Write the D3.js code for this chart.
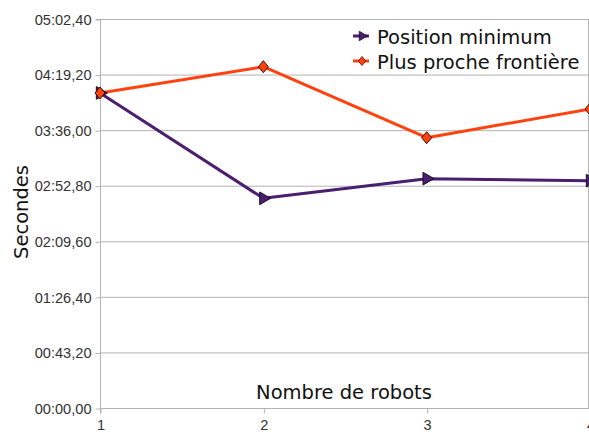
<!DOCTYPE html>
<html>
<head>
<meta charset="utf-8">
<script src="https://cdn.jsdelivr.net/npm/d3@7.9.0/dist/d3.min.js"></script>
<style>
  body { margin: 0; background: #fff; }
  svg { display: block; }
</style>
</head>
<body>
<svg id="chart" width="589" height="432"></svg>
<script>
// data (seconds)
const robots = [1, 2, 3, 4];
const positionMinimum = [244.9, 163.0, 178.3, 176.7];
const plusProcheFrontiere = [244.9, 265.3, 210.1, 232.4];
const yTicks = [0, 43.2, 86.4, 129.6, 172.8, 216, 259.2, 302.4];

const series = [
  { name: "Position minimum", values: positionMinimum, color: "#4b1f6f", marker: "tri" },
  { name: "Plus proche frontière", values: plusProcheFrontiere, color: "#ff420e", marker: "diamond" }
];

const svg = d3.select("#chart");
const x = d3.scaleLinear().domain([1, 4]).range([100, 590]);
const y = d3.scaleLinear().domain([0, 302.4]).range([408, 19]);

// mm:ss,cc
function fmtTime(s) {
  const cs = Math.round(s * 100);
  const m = Math.floor(cs / 6000);
  const sec = Math.floor((cs % 6000) / 100);
  const c = cs % 100;
  const p = n => String(n).padStart(2, "0");
  return `${p(m)}:${p(sec)},${p(c)}`;
}

// grid
svg.append("g")
  .selectAll("line")
  .data(yTicks)
  .join("line")
  .attr("x1", x(1)).attr("x2", x(4))
  .attr("y1", d => y(d) + 0.5).attr("y2", d => y(d) + 0.5)
  .attr("stroke", "#b3b3b3");

// right border
svg.append("line")
  .attr("x1", x(4) - 1.5).attr("x2", x(4) - 1.5)
  .attr("y1", y(302.4)).attr("y2", y(0))
  .attr("stroke", "#b3b3b3");

// y axis
const yAxis = svg.append("g")
  .attr("transform", `translate(${x(1) + 0.5},0.5)`)
  .call(d3.axisLeft(y).tickValues(yTicks).tickFormat(fmtTime).tickSize(5).tickPadding(4));
yAxis.select(".domain").attr("stroke", "#b3b3b3").attr("d", `M-5,${y(302.4)}H0V${y(0)}`);
yAxis.selectAll(".tick line").attr("stroke", "#b3b3b3");
yAxis.selectAll("text")
  .attr("fill", "#333")
  .style("font-family", "'Liberation Sans', Arial, sans-serif")
  .style("font-size", "14.6px");

// x axis
const xAxis = svg.append("g")
  .attr("transform", `translate(0.5,${y(0) + 0.5})`)
  .call(d3.axisBottom(x).tickValues(robots).tickFormat(d3.format("d")).tickSize(5).tickPadding(6));
xAxis.select(".domain").attr("stroke", "#b3b3b3").attr("d", `M${x(1)},5V0H${x(4)}`);
xAxis.selectAll(".tick line").attr("stroke", "#b3b3b3");
xAxis.selectAll("text")
  .attr("fill", "#333")
  .style("font-family", "'Liberation Sans', Arial, sans-serif")
  .style("font-size", "14.6px");

// axis titles
svg.append("text")
  .attr("x", 344).attr("y", 399)
  .attr("text-anchor", "middle")
  .style("font-family", "'DejaVu Sans', sans-serif")
  .style("font-size", "19.5px")
  .attr("fill", "#111")
  .text("Nombre de robots");

svg.append("text")
  .attr("transform", "translate(28,212) rotate(-90)")
  .attr("text-anchor", "middle")
  .style("font-family", "'DejaVu Sans', sans-serif")
  .style("font-size", "19.5px")
  .attr("fill", "#111")
  .text("Secondes");

// marker shapes
const triPath = d3.symbol().type(d3.symbolTriangle).size(70)();
const diamondPath = "M0,-6L5,0L0,6L-5,0Z";
function drawMarker(g, kind, color) {
  if (kind === "tri") {
    g.append("path").attr("d", triPath).attr("transform", "rotate(90)")
      .attr("fill", color).attr("stroke", "#1a0d26").attr("stroke-width", 1);
  } else {
    g.append("path").attr("d", diamondPath)
      .attr("fill", color).attr("stroke", "#3a1005").attr("stroke-width", 1);
  }
}

const line = d3.line().x((d, i) => x(robots[i])).y(d => y(d));

series.forEach(s => {
  svg.append("path")
    .attr("d", line(s.values))
    .attr("fill", "none")
    .attr("stroke", s.color)
    .attr("stroke-width", 3)
    .attr("stroke-linejoin", "round");
});
series.forEach(s => {
  s.values.forEach((v, i) => {
    const g = svg.append("g").attr("transform", `translate(${x(robots[i])},${y(v)})`);
    drawMarker(g, s.marker, s.color);
  });
});

// legend
const legend = svg.append("g").attr("transform", "translate(353,0)");
series.forEach((s, i) => {
  const ly = 36 + i * 25;
  legend.append("line")
    .attr("x1", 0).attr("x2", 16).attr("y1", ly).attr("y2", ly)
    .attr("stroke", s.color).attr("stroke-width", 3);
  const g = legend.append("g").attr("transform", `translate(9,${ly}) scale(0.75)`);
  drawMarker(g, s.marker, s.color);
  legend.append("text")
    .attr("x", 24).attr("y", ly + 7.5)
    .style("font-family", "'DejaVu Sans', sans-serif")
    .style("font-size", "19.5px")
    .attr("fill", "#111")
    .text(s.name);
});
</script>
</body>
</html>
